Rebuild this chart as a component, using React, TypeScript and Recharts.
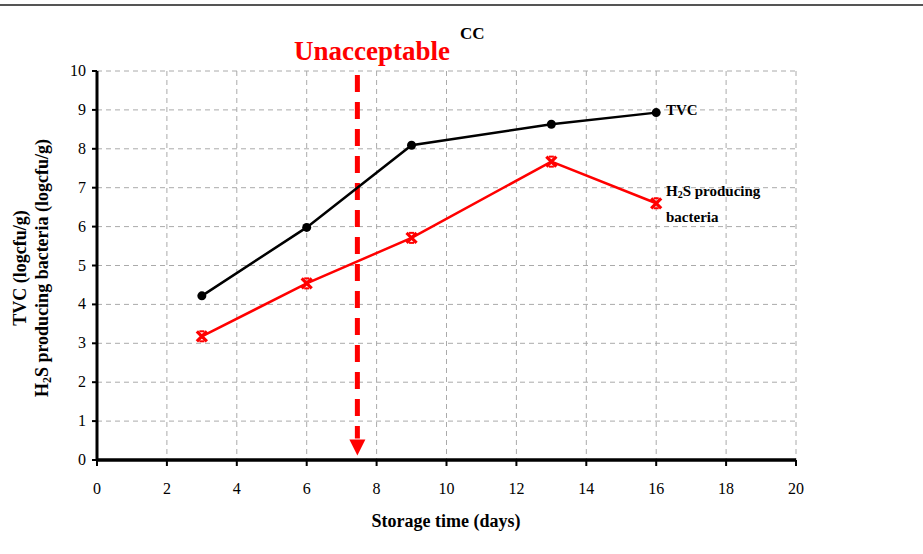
import {
  LineChart,
  Line,
  XAxis,
  YAxis,
  CartesianGrid,
  ReferenceLine,
  ReferenceDot,
} from 'recharts'

/* ── data ─────────────────────────────────────────── */

const days = [3, 6, 9, 13, 16]
const tvc = [4.22, 5.98, 8.09, 8.63, 8.93]
const h2s = [3.18, 4.54, 5.71, 7.67, 6.6]
const xTicks = [0, 2, 4, 6, 8, 10, 12, 14, 16, 18, 20]
const yTicks = [0, 1, 2, 3, 4, 5, 6, 7, 8, 9, 10]
const limitDay = 7.45

const data = days.map((d, i) => ({ day: d, tvc: tvc[i], h2s: h2s[i] }))

const SERIF = '"Liberation Serif", "DejaVu Serif", serif'

/* ── markers & ticks ─────────────────────────────── */

function Dot(props: any) {
  const { cx, cy } = props
  if (cx == null || cy == null) return null
  return <circle cx={cx} cy={cy} r={4.5} fill="#000" />
}

function Cross(props: any) {
  const { cx, cy } = props
  if (cx == null || cy == null) return null
  const r = 5
  return (
    <g stroke="#f00" strokeWidth={3.2}>
      <line x1={cx - r} y1={cy - r} x2={cx + r} y2={cy + r} />
      <line x1={cx - r} y1={cy + r} x2={cx + r} y2={cy - r} />
      <line x1={cx - 2.5} y1={cy - r} x2={cx + 2.5} y2={cy - r} strokeWidth={2} />
      <line x1={cx - 2.5} y1={cy + r} x2={cx + 2.5} y2={cy + r} strokeWidth={2} />
    </g>
  )
}

function Arrow(props: any) {
  const { cx, cy } = props
  if (cx == null || cy == null) return null
  return (
    <path d={`M${cx - 8},${cy - 8} L${cx + 8},${cy - 8} L${cx},${cy + 8} Z`} fill="#f00" />
  )
}

function XTick(props: any) {
  const { x, y, payload } = props
  return (
    <text x={x} y={y} dy={18} textAnchor="middle" fill="#000" style={{ fontFamily: SERIF, fontSize: 16 }}>
      {payload.value}
    </text>
  )
}

function YTick(props: any) {
  const { x, y, payload } = props
  return (
    <text x={x} y={y} dy={5} textAnchor="end" fill="#000" style={{ fontFamily: SERIF, fontSize: 16 }}>
      {payload.value}
    </text>
  )
}

export default function App() {
  return (
    <div
      style={{
        position: 'absolute',
        left: 0,
        top: 0,
        width: 923,
        height: 554,
        background: '#fff',
        fontFamily: SERIF,
      }}
    >
      <div style={{ position: 'absolute', left: 0, top: 4, width: 923, height: 2, background: '#555' }} />

      <LineChart
        width={923}
        height={554}
        data={data}
        margin={{ top: 71, right: 127, bottom: 64, left: 57 }}
        style={{ fontFamily: SERIF }}
      >
        <CartesianGrid stroke="#aaa" strokeDasharray="5 4" strokeWidth={1} />
        <XAxis
          dataKey="day"
          type="number"
          domain={[0, 20]}
          ticks={xTicks}
          interval={0}
          height={30}
          axisLine={{ stroke: '#000', strokeWidth: 3.5 }}
          tickLine={{ stroke: '#000', strokeWidth: 2 }}
          tickSize={6}
          tickMargin={10}
          tick={<XTick />}
        />
        <YAxis
          type="number"
          domain={[0, 10]}
          ticks={yTicks}
          interval={0}
          width={40}
          axisLine={{ stroke: '#000', strokeWidth: 3 }}
          tickLine={{ stroke: '#000', strokeWidth: 2 }}
          tickSize={5}
          tickMargin={6}
          tick={<YTick />}
        />
        <ReferenceLine
          segment={[
            { x: limitDay, y: 9.9 },
            { x: limitDay, y: 0.55 },
          ]}
          stroke="#f00"
          strokeWidth={5}
          strokeDasharray="17 10"
        />
        <ReferenceDot x={limitDay} y={0.32} shape={Arrow} />
        <Line
          dataKey="tvc"
          stroke="#000"
          strokeWidth={2.5}
          dot={<Dot />}
          isAnimationActive={false}
        />
        <Line
          dataKey="h2s"
          stroke="#f00"
          strokeWidth={2.5}
          dot={<Cross />}
          isAnimationActive={false}
        />
      </LineChart>

      {/* annotations */}
      <div
        style={{
          position: 'absolute',
          left: 294,
          top: 36,
          color: '#f00',
          fontWeight: 'bold',
          fontSize: 27,
          lineHeight: '30px',
          whiteSpace: 'nowrap',
        }}
      >
        Unacceptable
      </div>
      <div
        style={{ position: 'absolute', left: 460, top: 24, fontWeight: 'bold', fontSize: 17, lineHeight: '20px' }}
      >
        CC
      </div>
      <div
        style={{ position: 'absolute', left: 666, top: 101, fontWeight: 'bold', fontSize: 15, lineHeight: '18px' }}
      >
        TVC
      </div>
      <div
        style={{
          position: 'absolute',
          left: 666,
          top: 180,
          fontWeight: 'bold',
          fontSize: 15,
          lineHeight: '23px',
          whiteSpace: 'nowrap',
        }}
      >
        H<sub style={{ fontSize: 10, verticalAlign: '-2px' }}>2</sub>S producing
        <br />
        bacteria
      </div>

      {/* y axis title */}
      <div
        style={{
          position: 'absolute',
          left: 33,
          top: 268,
          width: 400,
          transform: 'translate(-50%, -50%) rotate(-90deg)',
          textAlign: 'center',
          fontWeight: 'bold',
          fontSize: 18,
          lineHeight: '22px',
        }}
      >
        TVC (logcfu/g)
        <br />
        H<sub style={{ fontSize: 12, verticalAlign: '-3px' }}>2</sub>S producing bacteria (logcfu/g)
      </div>

      {/* x axis title */}
      <div
        style={{
          position: 'absolute',
          left: 446,
          top: 511,
          transform: 'translateX(-50%)',
          fontWeight: 'bold',
          fontSize: 18,
          whiteSpace: 'nowrap',
        }}
      >
        Storage time (days)
      </div>
    </div>
  )
}
